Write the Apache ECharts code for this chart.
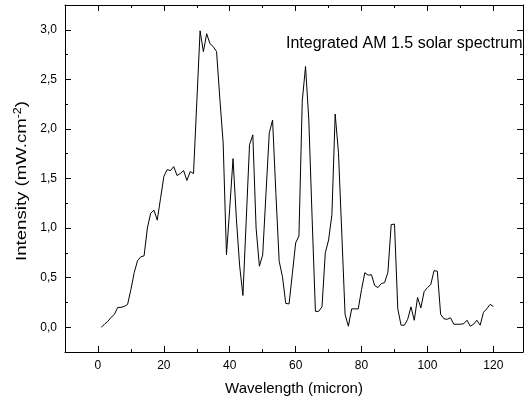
<!DOCTYPE html>
<html><head><meta charset="utf-8">
<script src="https://cdn.jsdelivr.net/npm/echarts@6/dist/echarts.min.js"></script>
<style>html,body{margin:0;padding:0;background:#fff}#c{width:529px;height:405px}</style>
</head><body><div id="c"></div>
<script>
const wavelength = [1,2,3,4,5,6,7,8,9,10,11,12,13,14,15,16,17,18,19,20,21,22,23,24,25,26,27,28,29,30,31,32,33,34,35,36,37,38,39,40,41,42,43,44,45,46,47,48,49,50,51,52,53,54,55,56,57,58,59,60,61,62,63,64,65,66,67,68,69,70,71,72,73,74,75,76,77,78,79,80,81,82,83,84,85,86,87,88,89,90,91,92,93,94,95,96,97,98,99,100,101,102,103,104,105,106,107,108,109,110,111,112,113,114,115,116,117,118,119,120];
const intensity = [0.00,0.03,0.06,0.10,0.13,0.20,0.20,0.21,0.23,0.38,0.55,0.67,0.71,0.72,1.00,1.15,1.18,1.08,1.30,1.52,1.59,1.58,1.62,1.53,1.55,1.58,1.48,1.57,1.55,2.27,2.99,2.78,2.96,2.86,2.83,2.78,2.30,1.86,0.73,1.20,1.70,1.10,0.62,0.32,1.08,1.84,1.94,1.00,0.615,0.73,1.35,1.96,2.09,1.35,0.665,0.51,0.24,0.235,0.54,0.85,0.92,2.28,2.63,2.09,1.10,0.16,0.16,0.205,0.75,0.88,1.135,2.15,1.76,0.95,0.13,0.01,0.185,0.185,0.185,0.38,0.55,0.525,0.53,0.42,0.40,0.44,0.45,0.555,1.035,1.04,0.185,0.02,0.02,0.08,0.205,0.07,0.30,0.195,0.36,0.40,0.43,0.57,0.565,0.13,0.085,0.08,0.095,0.03,0.03,0.03,0.035,0.07,0.01,0.03,0.07,0.02,0.15,0.185,0.23,0.21];
const xMajorTicks = [0,20,40,60,80,100,120];
const xMinorTicks = [-10,10,30,50,70,90,110];
const yMajorTicks = [0,0.5,1.0,1.5,2.0,2.5,3.0];
const yMinorTicks = [-0.25,0.25,0.75,1.25,1.75,2.25,2.75];
const titleText = 'Integrated AM 1.5 solar spectrum';
const xName = 'Wavelength (micron)';
const yName = 'Intensity (mW.cm{sup|-2})';

const FONT = 'Liberation Sans, Arial, sans-serif';
const XMIN=-10, XMAX=129, YMIN=-0.25, YMAX=3.25;
const lineStyle = {color:'#000', width:1};
function xAx(pos, ticks, len, showLabel, showLine){
  return {type:'value', position:pos, min:XMIN, max:XMAX, splitLine:{show:false},
    axisLine:{show:showLine, onZero:false, lineStyle},
    axisTick:{show:true, inside:true, length:len, lineStyle, customValues:ticks},
    axisLabel:{show:showLabel, customValues:ticks, color:'#000', fontFamily:FONT, fontSize:12, margin:8},
    name: showLabel ? xName : '', nameLocation:'middle', nameGap:29,
    nameTextStyle:{color:'#000', fontFamily:FONT, fontSize:15}};
}
function yAx(pos, ticks, len, showLabel, showLine){
  return {type:'value', position:pos, min:YMIN, max:YMAX, splitLine:{show:false},
    axisLine:{show:showLine, onZero:false, lineStyle},
    axisTick:{show:true, inside:true, length:len, lineStyle, customValues:ticks},
    axisLabel:{show:showLabel, customValues:ticks, color:'#000', fontFamily:FONT, fontSize:12, margin:8,
      formatter:v=>v.toFixed(1).replace('.',',')}};
}
const chart = echarts.init(document.getElementById('c'), null, {renderer:'canvas'});
chart.setOption({
  animation:false,
  backgroundColor:'#fff',
  title:{text:titleText, left:281, top:31, textStyle:{color:'#000', fontFamily:FONT, fontSize:16, fontWeight:'normal'}},
  grid:{left:65, right:6, top:5, bottom:53, containLabel:false},
  graphic:[{type:'text', x:22, y:181, rotation:Math.PI/2, scaleX:1.24,
    style:{text:yName, fill:'#000', fontFamily:FONT, fontSize:15, align:'center', verticalAlign:'middle',
      rich:{sup:{fontSize:10, verticalAlign:'top', padding:[0,0,8,0], fill:'#000', fontFamily:FONT}}}}],
  xAxis:[
    xAx('bottom', xMajorTicks, 6, true, true),
    xAx('bottom', xMinorTicks, 3, false, false),
    xAx('top', xMajorTicks, 6, false, true),
    xAx('top', xMinorTicks, 3, false, false)
  ],
  yAxis:[
    yAx('left', yMajorTicks, 6, true, true),
    yAx('left', yMinorTicks, 3, false, false),
    yAx('right', yMajorTicks, 6, false, true),
    yAx('right', yMinorTicks, 3, false, false)
  ],
  series:[{type:'line', xAxisIndex:0, yAxisIndex:0, showSymbol:false, symbol:'none',
    lineStyle:{color:'#000', width:1}, data: wavelength.map((w,i)=>[w,intensity[i]])}]
});
</script></body></html>
